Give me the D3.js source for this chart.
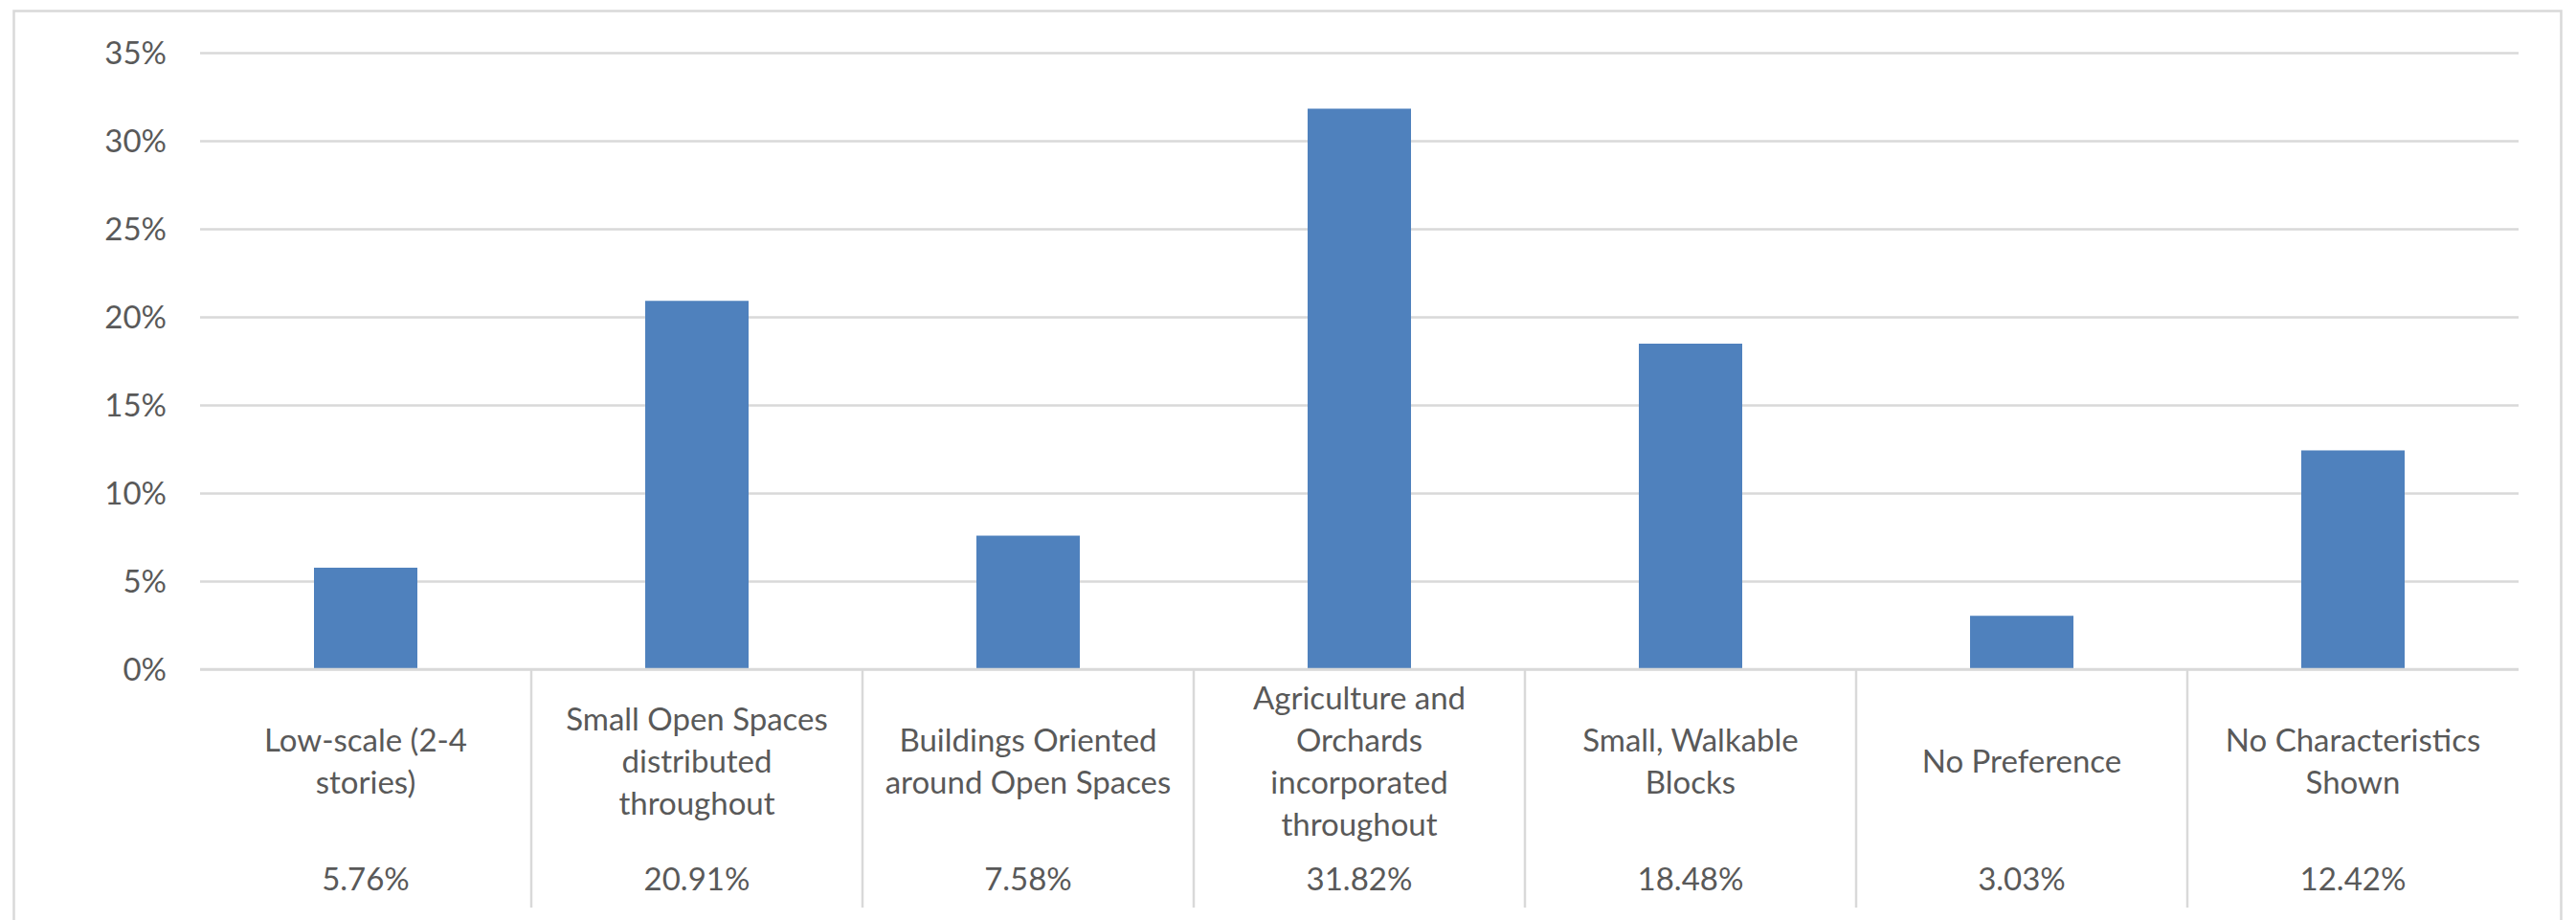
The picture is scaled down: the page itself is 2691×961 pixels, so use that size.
<!DOCTYPE html>
<html>
<head>
<meta charset="utf-8">
<script src="https://cdn.jsdelivr.net/npm/d3@7"></script>
<style>
  html, body { margin: 0; padding: 0; background: #ffffff; }
  svg { display: block; }
  text { font-family: Lato, "Open Sans", sans-serif; fill: #595959; }
</style>
</head>
<body>
<svg id="chart" width="2691" height="961"></svg>
<script>
// ---- data ----
const categories = [
  ["Low-scale (2-4", "stories)"],
  ["Small Open Spaces", "distributed", "throughout"],
  ["Buildings Oriented", "around Open Spaces"],
  ["Agriculture and", "Orchards", "incorporated", "throughout"],
  ["Small, Walkable", "Blocks"],
  ["No Preference"],
  ["No Characteristics", "Shown"]
];
const values = [0.0576, 0.2091, 0.0758, 0.3182, 0.1848, 0.0303, 0.1242];
const valueLabels = ["5.76%", "20.91%", "7.58%", "31.82%", "18.48%", "3.03%", "12.42%"];
const yTicks = [0, 0.05, 0.10, 0.15, 0.20, 0.25, 0.30, 0.35];

// ---- layout ----
const W = 2691, H = 961;
const plot = { left: 209, right: 2631, top: 55, bottom: 699 };
const fontSize = 33;
const gridColor = "#d9d9d9";
const barColor = "#4f81bd";

const svg = d3.select("#chart");

// outer chart border
svg.append("rect")
  .attr("x", 14.5).attr("y", 11.5)
  .attr("width", 2661).attr("height", 970)
  .attr("fill", "none").attr("stroke", gridColor).attr("stroke-width", 2.5);

const keys = categories.map((c, i) => i);
const x = d3.scaleBand().domain(keys).range([plot.left, plot.right]).paddingInner(0).paddingOuter(0);
const y = d3.scaleLinear().domain([0, 0.35]).range([plot.bottom, plot.top]);

// gridlines via axis
const gridAxis = d3.axisLeft(y).tickValues(yTicks).tickSize(-(plot.right - plot.left)).tickFormat("");
const g = svg.append("g").attr("transform", `translate(${plot.left},0)`).call(gridAxis);
g.select(".domain").remove();
g.selectAll(".tick line").attr("stroke", gridColor).attr("stroke-width", 2.5);

// y tick labels
svg.append("g").selectAll("text").data(yTicks).join("text")
  .attr("x", 174).attr("y", d => y(d))
  .attr("dy", "0.35em")
  .attr("text-anchor", "end")
  .attr("font-size", fontSize)
  .text(d => d3.format(".0%")(d));

// bars
const barW = 108;
svg.append("g").selectAll("rect").data(values).join("rect")
  .attr("x", (d, i) => x(i) + x.bandwidth() / 2 - barW / 2)
  .attr("y", d => y(d))
  .attr("width", barW)
  .attr("height", d => y(0) - y(d))
  .attr("fill", barColor);

// category separators (table lines)
svg.append("g").selectAll("line").data(keys.slice(1)).join("line")
  .attr("x1", d => x(d)).attr("x2", d => x(d))
  .attr("y1", plot.bottom).attr("y2", 948)
  .attr("stroke", gridColor).attr("stroke-width", 2.5);

// redraw baseline on top
svg.append("line")
  .attr("x1", plot.left).attr("x2", plot.right)
  .attr("y1", y(0)).attr("y2", y(0))
  .attr("stroke", gridColor).attr("stroke-width", 2.5);

// category labels
const lineH = 44;
const labelCenter = 795;
const catG = svg.append("g").selectAll("text").data(categories).join("text")
  .attr("text-anchor", "middle")
  .attr("font-size", fontSize);
catG.each(function(lines, i) {
  const t = d3.select(this);
  const cx = x(i) + x.bandwidth() / 2;
  const startY = labelCenter - (lines.length - 1) * lineH / 2;
  t.selectAll("tspan").data(lines).join("tspan")
    .attr("x", cx)
    .attr("y", (d, j) => startY + j * lineH)
    .attr("dy", "0.35em")
    .text(d => d);
});

// value row
svg.append("g").selectAll("text").data(valueLabels).join("text")
  .attr("x", (d, i) => x(i) + x.bandwidth() / 2)
  .attr("y", 918)
  .attr("dy", "0.35em")
  .attr("text-anchor", "middle")
  .attr("font-size", fontSize)
  .text(d => d);
</script>
</body>
</html>
